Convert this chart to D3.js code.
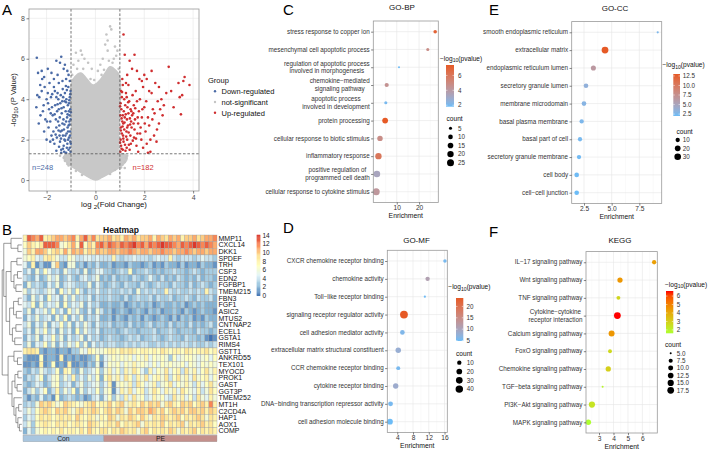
<!DOCTYPE html>
<html>
<head>
<meta charset="utf-8">
<script src="https://cdn.jsdelivr.net/npm/d3@7"></script>
<style>
  body { margin: 0; background: #fff; }
  svg { display: block; font-family: "Liberation Sans", Arial, Helvetica, sans-serif; }
</style>
</head>
<body>
<svg></svg>
<script>
// ---------- A: volcano ----------
const downPts = [[-1.02,1.4],[-1.05,1.6],[-1.03,1.9],[-1.08,2.1],[-1.04,2.4],[-1.1,2.7],[-1.02,3.0],[-1.06,3.2],[-1.03,3.5],[-1.08,3.8],[-1.05,4.1],[-1.02,4.4],[-1.1,1.5],[-1.15,1.8],[-1.12,2.0],[-1.18,2.3],[-1.14,2.6],[-1.2,2.9],[-1.16,3.1],[-1.22,3.4],[-1.13,3.7],[-1.19,4.0],[-1.25,4.3],[-1.11,4.6],[-1.28,1.4],[-1.3,1.7],[-1.27,2.0],[-1.33,2.2],[-1.29,2.5],[-1.35,2.8],[-1.31,3.0],[-1.38,3.3],[-1.3,3.6],[-1.36,3.9],[-1.42,4.2],[-1.34,4.5],[-1.4,1.5],[-1.45,1.9],[-1.43,2.4],[-1.48,2.7],[-1.46,3.1],[-1.5,3.5],[-1.44,3.8],[-1.52,4.0],[-1.55,4.3],[-1.58,2.1],[-1.6,2.6],[-1.62,3.0],[-1.57,3.4],[-1.65,3.7],[-1.6,4.1],[-1.66,4.4],[-1.68,1.8],[-1.72,2.4],[-1.75,3.2],[-1.78,3.6],[-1.7,4.6],[-1.82,4.1],[-1.85,2.9],[-1.9,3.5],[-1.95,4.3],[-1.88,4.8],[-2.0,4.0],[-2.05,3.0],[-2.1,5.1],[-2.2,4.4],[-2.25,3.2],[-2.32,2.8],[-2.38,4.2],[-2.35,5.3],[-2.42,3.6],[-2.4,6.05],[-2.3,4.1],[-2.18,5.0],[-2.15,3.4],[-1.6,5.9],[-1.4,6.1],[-1.45,5.8],[-1.8,5.3],[-1.55,5.2],[-1.3,5.5],[-1.2,5.0],[-1.35,4.9],[-1.1,5.2],[-1.15,5.4],[-1.25,5.7],[-1.05,4.9],[-1.5,4.8],[-1.7,5.0],[-1.95,5.5],[-2.2,5.4],[-2.1,2.4],[-1.8,2.2],[-1.92,2.6],[-2.0,2.0],[-1.2,1.35],[-1.6,1.45],[-1.4,1.35],[-1.85,1.9],[-1.07,2.9],[-1.17,1.6],[-1.23,2.2],[-1.26,3.9],[-1.09,3.4],[-1.32,4.1],[-1.47,2.2],[-1.53,2.9],[-1.01,1.8],[-1.04,2.2],[-1.06,2.75],[-1.01,3.35],[-1.07,3.95],[-1.03,4.25],[-1.12,2.4],[-1.14,3.25],[-1.2,3.85],[-1.17,4.45],[-1.24,1.95],[-1.27,2.75],[-1.21,4.65],[-1.33,1.55],[-1.37,2.45],[-1.39,3.55],[-1.41,2.05],[-1.49,1.65],[-1.51,2.45],[-1.55,3.75],[-1.63,2.25],[-1.67,3.25],[-1.74,2.0],[-1.77,4.25],[-1.83,3.3],[-1.94,3.8],[-1.98,2.9],[-2.08,4.6],[-2.12,3.7],[-2.26,4.7]];
const upPts = [[1.02,1.4],[1.05,1.7],[1.03,2.0],[1.08,2.3],[1.04,2.6],[1.1,2.9],[1.02,3.2],[1.06,3.5],[1.03,3.8],[1.08,4.1],[1.05,4.4],[1.12,1.5],[1.15,1.9],[1.13,2.2],[1.18,2.5],[1.14,2.8],[1.2,3.1],[1.16,3.4],[1.22,3.7],[1.18,4.0],[1.25,4.3],[1.28,1.6],[1.3,2.0],[1.27,2.4],[1.33,2.7],[1.29,3.0],[1.35,3.3],[1.31,3.6],[1.38,3.9],[1.4,1.5],[1.45,1.8],[1.43,2.2],[1.48,2.6],[1.46,2.9],[1.5,3.2],[1.44,3.5],[1.55,3.3],[1.52,4.2],[1.58,2.1],[1.6,2.5],[1.62,3.0],[1.57,3.7],[1.65,4.4],[1.68,1.7],[1.72,2.3],[1.75,2.8],[1.78,3.4],[1.7,3.9],[1.82,4.0],[1.85,2.6],[1.9,3.1],[1.95,4.6],[1.88,2.0],[2.0,3.6],[2.05,2.4],[2.1,1.8],[2.15,3.1],[2.2,2.7],[2.25,1.4],[2.3,4.3],[2.35,3.5],[2.4,2.2],[2.45,4.8],[2.55,3.9],[2.6,2.8],[2.7,4.0],[2.75,3.2],[2.9,4.3],[3.0,5.6],[3.1,4.4],[3.2,3.6],[3.4,4.8],[3.45,4.1],[3.5,3.25],[3.55,4.2],[3.65,5.1],[3.6,4.9],[3.85,4.7],[2.3,5.4],[2.0,5.2],[1.6,6.2],[1.15,7.2],[1.4,5.9],[1.2,6.2],[1.5,5.5],[1.3,5.2],[1.7,5.4],[1.8,5.0],[2.1,5.0],[1.9,4.9],[2.6,4.6],[2.8,3.7],[1.1,5.0],[1.25,4.8],[2.25,2.0],[1.95,1.6],[2.5,1.9],[2.15,1.35],[1.75,1.4],[2.2,4.4],[1.35,4.7],[1.07,1.55],[1.11,2.65],[1.21,1.75],[1.24,3.25],[1.36,2.35],[1.41,3.05],[1.01,1.85],[1.04,2.45],[1.07,3.05],[1.01,3.65],[1.09,4.35],[1.12,3.2],[1.14,2.05],[1.19,2.85],[1.23,1.45],[1.26,2.15],[1.3,2.6],[1.34,3.85],[1.37,1.75],[1.42,2.75],[1.47,3.4],[1.53,1.95],[1.56,2.8],[1.63,3.55],[1.66,2.05],[1.73,3.1],[1.83,2.3],[1.92,3.5],[2.02,2.8],[2.08,3.9],[2.33,3.0],[2.42,3.3],[2.52,2.5],[2.65,3.5],[1.12,4.7],[1.28,4.1]];
const nsPts = [[0.6,7.6],[0.65,7.45],[0.45,7.2],[0.5,6.9],[0.4,6.7],[0.5,6.4],[0.8,6.6],[0.9,6.4],[0.85,6.15],[-0.6,6.4],[-0.55,6.2],[-0.8,6.3],[-0.7,5.9],[-0.45,6.0],[-0.3,5.8],[-0.9,5.7],[0.3,6.0],[0.2,5.7],[0.95,5.5],[-0.95,5.2],[0.1,5.4],[-0.15,5.5],[0.7,5.8],[-0.5,5.5],[-1.3,1.1],[-1.25,0.95],[-1.45,1.2],[1.25,1.1],[1.3,1.2],[1.2,0.9],[-1.15,0.8],[1.1,0.75],[1.2,0.6],[0.25,5.2],[-0.2,5.0],[0.55,5.9],[-0.75,5.5],[0.75,6.0],[-0.8,0.45],[0.8,0.5],[-1.1,0.72],[1.05,0.62],[-0.55,0.25],[0.6,0.3],[-0.92,4.95],[0.92,5.25],[-0.05,4.95],[0.35,5.45]];
const nsCloud = [[0,0],[-0.25,0.12],[-0.5,0.3],[-0.75,0.5],[-1.0,0.7],[-1.2,0.9],[-1.3,1.15],[-1.1,1.3],[-1.0,1.3],[-1.0,4.7],[-0.85,5.1],[-0.6,5.3],[-0.35,5.0],[-0.1,4.7],[0.15,4.9],[0.4,5.3],[0.6,5.6],[0.85,5.4],[1.0,5.1],[1.0,1.3],[1.15,1.3],[1.3,1.1],[1.2,0.85],[1.0,0.65],[0.75,0.45],[0.5,0.28],[0.25,0.12]];
const volXTicks = [-2, 0, 2, 4];
const volYTicks = [0, 2, 4, 6, 8];
const groupLabels = ["Down-regulated", "not-significant", "Up-regulated"];
const degCounts = [248, 182];
const fcCut = 1, pCut = 0.05;

// ---------- B: heatmap ----------
const genes = ["MMP11","CXCL14","DKK1","SPDEF","TRH","CSF3","EDN2","FGFBP1","TMEM215","FBN3","FGF1","ASIC2","MTUS2","CNTNAP2","ECEL1","GSTA1","RIMS4","GSTT1","ANKRD55","TEX101","MYOCD","PROK1","GAST","GGT3P","TMEM252","MT1H","C2CD4A","HAP1","AOX1","COMP"];
const sampleGroups = ["Con", "PE"];
// one hex digit per sample (0-e = expression 0-14)
const conExpr = ["8dcbd89abbabc8bdac9a","7a879dddc679b7d7a8cd","6a8bba79a8b8bab8a9ba","67854898644764455454","52813116a21662313242","35263753426434262355","43252364623532453462","26343253624543336253","63543465274637424353","42635274526363435243","54726354627354625342","36254637352746325264","25363452637253624352","46253625473625364253","35264735263527364352","25362547362534625342","36254736253647362534","89982122122133658766","21117122181212112372","11218127121811213261","32436434728732634573","24357246736483536472","32354236734524634563","24635724836472635473","31325231723432312452","3436a9a867a987689a78","46479a97a9a869a89a97","3547989789897a879868","4637898798978987a987","2536787879788797a879"];
const peExpr = ["ab9a8bab9aab8ba9bab8aab9abbc","bdcbdcdecdbdcdeddcbdcdedcdcb","abbabbcbabbabbcbbabbcbabbabb","4484344544434544843444345443","2312213221231213221312213221","3323437233432323343323432333","3242332432353242324323242332","2343243324323433243324234323","3433434263434338434334343843","3433242343342433423343243342","2322312323231232232312323222","2312321232132312232132123221","2313213231321232131323121322","3423324232342332423324232342","3332343323334233432333243323","3433234342334323433243323101","3443343434433434343443433434","7887989878878798788798788978","5676767576857676375677656757","5767576867657576766757657676","6857486975385769578496857968","7968597486957869479685967857","5816768497568467957686485796","6715869578469758685976584697","5736485967458675496857496586","8a79a6897a8a9a69a87a9a79a8c8","9a8a96a8aa9ba8a79a9a8aa9a8a9","7a9698a97a8698a989a7989a9698","898a7989a69898a7989a6989a897","9798a98969a79898a96989a79898"];
const heatTicks = [0, 2, 4, 6, 8, 10, 12, 14];
const geneTree = {h:1, c:[
  {h:.92, c:[
    {h:.55, c:[0, {h:.2, c:[1,2]}]},
    {h:.8, c:[
      {h:.55, c:[{h:.25, c:[3,4]}, {h:.4, c:[{h:.22, c:[5,6]}, {h:.3, c:[7,8]}]}]},
      {h:.62, c:[{h:.42, c:[{h:.18, c:[9,10]}, {h:.28, c:[11,12]}]}, {h:.48, c:[{h:.3, c:[13,14]}, {h:.36, c:[15,16]}]}]}
    ]}
  ]},
  {h:.7, c:[
    {h:.4, c:[17, {h:.22, c:[18,19]}]},
    {h:.5, c:[
      {h:.35, c:[{h:.2, c:[20,21]}, {h:.24, c:[22,23]}]},
      {h:.4, c:[24, {h:.3, c:[{h:.16, c:[25,26]}, {h:.2, c:[27, {h:.12, c:[28,29]}]}]}]}
    ]}
  ]}
]};

// ---------- C: GO-BP ----------
const bpTerms = ["stress response to copper ion","mesenchymal cell apoptotic process","regulation of apoptotic process\ninvolved in morphogenesis","chemokine\u2212mediated\nsignaling pathway","apoptotic process\ninvolved in development","protein processing","cellular response to biotic stimulus","inflammatory response","positive regulation of\nprogrammed cell death","cellular response to cytokine stimulus"];
const bpEnrich = [27.2, 23.9, 11.0, 5.5, 5.1, 4.8, 2.5, 1.8, 1.1, 0.8];
const bpLogP = [7.0, 4.8, 1.8, 4.5, 2.0, 7.4, 4.8, 6.0, 3.3, 4.2];
const bpCount = [6, 5, 4, 8, 5, 16, 14, 20, 22, 25];
const bpXTicks = [10, 20], bpColorTicks = [2, 4, 6], bpSizeTicks = [5, 10, 15, 20, 25];

// ---------- D: GO-MF ----------
const mfTerms = ["CXCR chemokine receptor binding","chemokine activity","Toll\u2212like receptor binding","signaling receptor regulator activity","cell adhesion mediator activity","extracellular matrix structural constituent","CCR chemokine receptor binding","cytokine receptor binding","DNA\u2212binding transcription repressor activity","cell adhesion molecule binding"];
const mfEnrich = [16.1, 11.7, 11.0, 5.7, 5.3, 4.25, 4.25, 3.6, 2.3, 2.15];
const mfLogP = [5.5, 11.0, 5.0, 23.7, 6.0, 8.0, 5.5, 8.5, 5.5, 4.8];
const mfCount = [6, 10, 4, 45, 12, 18, 8, 17, 13, 20];
const mfXTicks = [4, 8, 12, 16], mfColorTicks = [5, 10, 15, 20], mfSizeTicks = [10, 20, 30, 40];

// ---------- E: GO-CC ----------
const ccTerms = ["smooth endoplasmic reticulum","extracellular matrix","endoplasmic reticulum lumen","secretory granule lumen","membrane microdomain","basal plasma membrane","basal part of cell","secretory granule membrane","cell body","cell\u2212cell junction"];
const ccEnrich = [9.16, 4.4, 3.35, 2.68, 2.5, 2.29, 2.14, 2.05, 1.84, 1.84];
const ccLogP = [2.6, 13.0, 6.5, 3.5, 3.0, 2.6, 2.4, 2.2, 2.1, 2.0];
const ccCount = [4, 32, 15, 12, 12, 10, 10, 10, 12, 12];
const ccXTicks = [2.5, 5.0, 7.5], ccColorTicks = [2.5, 5.0, 7.5, 10.0, 12.5], ccSizeTicks = [10, 20, 30];

// ---------- F: KEGG ----------
const kgTerms = ["IL\u221217 signaling pathway","Wnt signaling pathway","TNF signaling pathway","Cytokine\u2212cytokine\nreceptor interaction","Calcium signaling pathway","FoxO signaling pathway","Chemokine signaling pathway","TGF\u2212beta signaling pathway","PI3K\u2212Akt signaling pathway","MAPK signaling pathway"];
const kgEnrich = [6.81, 4.45, 4.34, 4.27, 3.87, 3.76, 3.64, 3.25, 2.51, 2.26];
const kgLogP = [4.3, 4.5, 2.8, 6.6, 4.5, 2.7, 3.0, 1.9, 2.4, 1.6];
const kgCount = [8, 11, 7, 18, 14, 7, 11, 5, 15, 12];
const kgXTicks = [3, 4, 5, 6], kgColorTicks = [2, 3, 4, 5, 6], kgSizeTicks = [5, 7.5, 10, 12.5, 15, 17.5];

// =====================================================================
const svg = d3.select("svg").attr("width", 708).attr("height", 449);
svg.append("rect").attr("width", 708).attr("height", 449).attr("fill", "#fff");

const TXT = "#333";
const GRID = "#e6e6e6", GRID_MINOR = "#f3f3f3", BORDER = "#9a9a9a";

// text with subscript pieces: parts = [[string, isSub], ...]
function subText(sel, parts, size) {
  let shifted = false;
  parts.forEach(([s, sub]) => {
    const t = sel.append("tspan").text(s).attr("font-size", sub ? size * 0.78 : size);
    if (sub && !shifted) { t.attr("dy", size * 0.25); shifted = true; }
    else if (!sub && shifted) { t.attr("dy", -size * 0.25); shifted = false; }
  });
  return sel;
}

function minorTicks(ticks, domain) {
  const step = ticks[1] - ticks[0];
  const out = [];
  for (let v = ticks[0] - step / 2; v <= domain[1]; v += step) if (v >= domain[0]) out.push(v);
  return out;
}

// ---------------- panel letters ----------------
[["A", 2, 15], ["B", 2, 235], ["C", 283, 15], ["D", 283, 233], ["E", 489, 15], ["F", 489, 237]]
  .forEach(([s, x, y]) => svg.append("text").attr("x", x).attr("y", y).attr("font-size", 15).attr("fill", "#000").text(s));

// ---------------- A: volcano ----------------
function drawVolcano(g) {
  const box = { l: 29, r: 199, t: 9, b: 191 };
  const xDom = [-2.72, 4.24], yDom = [-0.54, 8.46];
  const x = d3.scaleLinear().domain(xDom).range([box.l, box.r]);
  const y = d3.scaleLinear().domain(yDom).range([box.b, box.t]);

  g.append("rect").attr("x", box.l).attr("y", box.t).attr("width", box.r - box.l).attr("height", box.b - box.t).attr("fill", "#fff");
  const grid = g.append("g");
  minorTicks(volXTicks, xDom).forEach(v => grid.append("line").attr("x1", x(v)).attr("x2", x(v)).attr("y1", box.t).attr("y2", box.b).attr("stroke", GRID_MINOR).attr("stroke-width", 0.4));
  minorTicks(volYTicks, yDom).forEach(v => grid.append("line").attr("y1", y(v)).attr("y2", y(v)).attr("x1", box.l).attr("x2", box.r).attr("stroke", GRID_MINOR).attr("stroke-width", 0.4));
  volXTicks.forEach(v => grid.append("line").attr("x1", x(v)).attr("x2", x(v)).attr("y1", box.t).attr("y2", box.b).attr("stroke", GRID).attr("stroke-width", 0.6));
  volYTicks.forEach(v => grid.append("line").attr("y1", y(v)).attr("y2", y(v)).attr("x1", box.l).attr("x2", box.r).attr("stroke", GRID).attr("stroke-width", 0.6));

  const line = d3.line().x(d => x(d[0])).y(d => y(d[1])).curve(d3.curveCatmullRomClosed);
  g.append("path").attr("d", line(nsCloud)).attr("fill", "#c8c8c8").attr("stroke", "#c8c8c8").attr("stroke-width", 1.5);

  const dots = (data, col) => g.append("g").selectAll("circle").data(data).enter().append("circle")
    .attr("cx", d => x(d[0])).attr("cy", d => y(d[1])).attr("r", 1.3).attr("fill", col);
  dots(nsPts, "#c4c4c4");
  dots(downPts, "#4a6aa6");
  dots(upPts, "#cf2d2f");

  const dash = "2.6,1.8";
  [-fcCut, fcCut].forEach(v => g.append("line").attr("x1", x(v)).attr("x2", x(v)).attr("y1", box.t).attr("y2", box.b).attr("stroke", "#555").attr("stroke-width", 0.8).attr("stroke-dasharray", dash));
  const py = -Math.log10(pCut);
  g.append("line").attr("x1", box.l).attr("x2", box.r).attr("y1", y(py)).attr("y2", y(py)).attr("stroke", "#555").attr("stroke-width", 0.8).attr("stroke-dasharray", dash);

  g.append("rect").attr("x", box.l).attr("y", box.t).attr("width", box.r - box.l).attr("height", box.b - box.t).attr("fill", "none").attr("stroke", BORDER).attr("stroke-width", 0.8);

  const ax = g.append("g").attr("transform", `translate(0,${box.b})`).call(d3.axisBottom(x).tickValues(volXTicks).tickFormat(d3.format("d")).tickSize(2.5).tickPadding(1.5));
  const ay = g.append("g").attr("transform", `translate(${box.l},0)`).call(d3.axisLeft(y).tickValues(volYTicks).tickFormat(d3.format("d")).tickSize(2.5).tickPadding(1.5));
  [ax, ay].forEach(a => {
    a.select(".domain").remove();
    a.selectAll("line").attr("stroke", TXT).attr("stroke-width", 0.6);
    a.selectAll("text").attr("font-size", 7).attr("fill", "#4d4d4d").attr("font-family", null);
  });

  subText(g.append("text").attr("x", (box.l + box.r) / 2).attr("y", 207).attr("text-anchor", "middle").attr("fill", "#111"),
    [["log ", false], ["2", true], ["(Fold Change)", false]], 7.8);
  subText(g.append("text").attr("transform", `translate(16,${(box.t + box.b) / 2}) rotate(-90)`).attr("text-anchor", "middle").attr("fill", "#111"),
    [["-log", false], ["10", true], [" (P Value)", false]], 7.8);

  g.append("text").attr("x", 32).attr("y", 170).attr("font-size", 7.5).attr("fill", "#4a6aa6").text("n=" + degCounts[0]);
  g.append("text").attr("x", 132.5).attr("y", 170).attr("font-size", 7.5).attr("fill", "#cf2d2f").text("n=" + degCounts[1]);

  // legend
  const lg = g.append("g");
  lg.append("text").attr("x", 208).attr("y", 83).attr("font-size", 7.5).attr("fill", "#111").text("Group");
  const lcol = ["#4a6aa6", "#c4c4c4", "#cf2d2f"];
  groupLabels.forEach((s, i) => {
    const yy = 91.2 + i * 10.8;
    lg.append("circle").attr("cx", 215).attr("cy", yy).attr("r", 1.2).attr("fill", lcol[i]);
    lg.append("text").attr("x", 221.5).attr("y", yy + 2.7).attr("font-size", 7.5).attr("fill", "#111").text(s);
  });
}

// ---------------- B: heatmap ----------------
function drawHeatmap(g) {
  const box = { l: 23, r: 217, t: 235, b: 434.3 };
  const nCon = conExpr[0].length, nPE = peExpr[0].length;
  const nCol = nCon + nPE;
  const x = d3.scaleBand().domain(d3.range(nCol)).range([box.l, box.r]);
  const y = d3.scaleBand().domain(d3.range(genes.length)).range([box.t, box.b]);
  const pal = ["#4575b4", "#91bfdb", "#e0f3f8", "#ffffbf", "#fee090", "#fc8d59", "#d73027"];
  const color = d3.scaleLinear().domain(pal.map((_, i) => i * 14.2 / 6)).range(pal).clamp(true);

  const cells = [];
  genes.forEach((gname, i) => {
    const row = conExpr[i] + peExpr[i];
    for (let j = 0; j < nCol; j++) cells.push({ i, j, v: parseInt(row[j], 16) });
  });
  g.append("g").selectAll("rect").data(cells).enter().append("rect")
    .attr("x", d => x(d.j)).attr("y", d => y(d.i)).attr("width", x.bandwidth()).attr("height", y.bandwidth())
    .attr("fill", d => color(d.v)).attr("stroke", "#9c9c9c").attr("stroke-width", 0.35);

  // annotation bar
  const ab = { t: 435.2, h: 6.6 };
  const grpCol = ["#a9c6df", "#c4908c"];
  [[0, nCon], [nCon, nCol]].forEach(([a, b], k) => {
    const x0 = x(a), x1 = x(b - 1) + x.bandwidth();
    g.append("rect").attr("x", x0).attr("y", ab.t).attr("width", x1 - x0).attr("height", ab.h).attr("fill", grpCol[k]).attr("stroke", "#9c9c9c").attr("stroke-width", 0.35);
    g.append("text").attr("x", (x0 + x1) / 2).attr("y", ab.t + ab.h - 1).attr("text-anchor", "middle").attr("font-size", 6.8).attr("fill", "#222").text(sampleGroups[k]);
  });

  // gene labels
  g.append("g").selectAll("text").data(genes).enter().append("text")
    .attr("x", box.r + 1.5).attr("y", (d, i) => y(i) + y.bandwidth() / 2 + 2.5)
    .attr("font-size", 7).attr("fill", "#111").text(d => d);

  g.append("text").attr("x", 121).attr("y", 233).attr("text-anchor", "middle").attr("font-size", 8.5).attr("font-weight", "bold").attr("fill", "#111").text("Heatmap");

  // dendrogram
  const xh = d3.scaleLinear().domain([0, 1]).range([21.8, 2.2]);
  const dg = g.append("g").attr("stroke", "#555").attr("stroke-width", 0.6).attr("fill", "none");
  function lay(node) {
    if (typeof node === "number") return { x: xh(0), y: y(node) + y.bandwidth() / 2 };
    const kids = node.c.map(lay);
    const xn = xh(node.h);
    dg.append("line").attr("x1", xn).attr("x2", xn).attr("y1", kids[0].y).attr("y2", kids[kids.length - 1].y);
    kids.forEach(k => dg.append("line").attr("x1", xn).attr("x2", k.x).attr("y1", k.y).attr("y2", k.y));
    return { x: xn, y: (kids[0].y + kids[kids.length - 1].y) / 2 };
  }
  lay(geneTree);

  // colour legend
  const ly = d3.scaleLinear().domain([0, 14]).range([295.7, 235.6]);
  const lb = g.append("g");
  const steps = d3.range(0, 14.2, 0.2);
  lb.selectAll("rect").data(steps).enter().append("rect")
    .attr("x", 256.7).attr("width", 3.6).attr("y", d => ly(d + 0.2)).attr("height", ly(0) - ly(0.2) + 0.3)
    .attr("fill", d => color(d + 0.1));
  lb.selectAll("text").data(heatTicks).enter().append("text")
    .attr("x", 262.5).attr("y", d => ly(d) + 2.3).attr("font-size", 6.5).attr("fill", "#222").text(d => d);
}

// ---------------- dot plots ----------------
function drawDot(g, c) {
  const box = c.box;
  const x = d3.scaleLinear().domain(c.xDomain).range([box.l, box.r]);
  const y = d3.scalePoint().domain(d3.range(c.terms.length)).range([box.t, box.b]).padding(0.6);
  const color = d3.scaleLinear().domain(c.colorDomain).range(c.colorRange).interpolate(d3.interpolateLab).clamp(true);
  const cExt = d3.extent(c.count);
  const r = v => c.rRange[0] + (c.rRange[1] - c.rRange[0]) * Math.sqrt(Math.max(0, (v - cExt[0]) / (cExt[1] - cExt[0])));

  g.append("rect").attr("x", box.l).attr("y", box.t).attr("width", box.r - box.l).attr("height", box.b - box.t).attr("fill", "#fff");
  minorTicks(c.xTicks, c.xDomain).forEach(v => g.append("line").attr("x1", x(v)).attr("x2", x(v)).attr("y1", box.t).attr("y2", box.b).attr("stroke", GRID_MINOR).attr("stroke-width", 0.4));
  c.xTicks.forEach(v => g.append("line").attr("x1", x(v)).attr("x2", x(v)).attr("y1", box.t).attr("y2", box.b).attr("stroke", GRID).attr("stroke-width", 0.6));
  c.terms.forEach((t, i) => g.append("line").attr("x1", box.l).attr("x2", box.r).attr("y1", y(i)).attr("y2", y(i)).attr("stroke", GRID).attr("stroke-width", 0.6));

  const order = d3.range(c.terms.length);
  g.append("g").selectAll("circle").data(order).enter().append("circle")
    .attr("cx", i => x(c.enrich[i])).attr("cy", i => y(i)).attr("r", i => r(c.count[i]))
    .attr("fill", i => color(c.logp[i]));

  g.append("rect").attr("x", box.l).attr("y", box.t).attr("width", box.r - box.l).attr("height", box.b - box.t).attr("fill", "none").attr("stroke", BORDER).attr("stroke-width", 0.8);

  const ax = g.append("g").attr("transform", `translate(0,${box.b})`)
    .call(d3.axisBottom(x).tickValues(c.xTicks).tickFormat(c.xFmt).tickSize(2.2).tickPadding(1.2));
  ax.select(".domain").remove();
  ax.selectAll("line").attr("stroke", TXT).attr("stroke-width", 0.6);
  ax.selectAll("text").attr("font-size", 6.6).attr("fill", TXT).attr("font-family", null);

  const ay = g.append("g").attr("transform", `translate(${box.l},0)`)
    .call(d3.axisLeft(y).tickFormat("").tickSize(2.2));
  ay.select(".domain").remove();
  ay.selectAll("line").attr("stroke", TXT).attr("stroke-width", 0.6);

  // category labels (multi-line blocks centred, right-aligned as a block)
  const fs = 6.3, lh = 7.8;
  c.terms.forEach((t, i) => {
    const lines = t.split("\n");
    const tg = g.append("g");
    const texts = lines.map((s, k) => tg.append("text").attr("font-size", fs).attr("fill", TXT)
      .attr("y", y(i) + 2.2 + (k - (lines.length - 1) / 2) * lh).text(s));
    const wmax = d3.max(texts, tx => tx.node().getComputedTextLength());
    const right = box.l - 3.6;
    texts.forEach(tx => tx.attr("text-anchor", "middle").attr("x", right - wmax / 2));
  });

  g.append("text").attr("x", c.titleX).attr("y", c.titleY).attr("text-anchor", "middle").attr("font-size", 8).attr("fill", "#111").text(c.title);
  g.append("text").attr("x", (box.l + box.r) / 2).attr("y", box.b + 16).attr("text-anchor", "middle").attr("font-size", 6.8).attr("fill", "#111").text("Enrichment");

  // colour bar legend
  const L = c.leg;
  subText(g.append("text").attr("x", L.titleX).attr("y", L.titleY).attr("fill", "#111"),
    [["\u2212log", false], ["10", true], ["(pvalue)", false]], 6.6);
  const gid = "grad" + c.title.replace(/\W/g, "");
  const grad = svg.append("defs").append("linearGradient").attr("id", gid).attr("x1", 0).attr("x2", 0).attr("y1", 1).attr("y2", 0);
  d3.range(0, 1.0001, 0.1).forEach(t => grad.append("stop").attr("offset", t)
    .attr("stop-color", color(c.colorDomain[0] + t * (c.colorDomain[1] - c.colorDomain[0]))));
  const bar = L.bar;
  g.append("rect").attr("x", bar.x).attr("y", bar.y).attr("width", bar.w).attr("height", bar.h).attr("fill", `url(#${gid})`);
  const cy = d3.scaleLinear().domain(c.colorDomain).range([bar.y + bar.h, bar.y]);
  c.colorTicks.forEach(v => {
    g.append("line").attr("x1", bar.x).attr("x2", bar.x + 1.5).attr("y1", cy(v)).attr("y2", cy(v)).attr("stroke", "#fff").attr("stroke-width", 0.5);
    g.append("line").attr("x1", bar.x + bar.w - 1.5).attr("x2", bar.x + bar.w).attr("y1", cy(v)).attr("y2", cy(v)).attr("stroke", "#fff").attr("stroke-width", 0.5);
    g.append("text").attr("x", L.labX).attr("y", cy(v) + 2.2).attr("font-size", 6.3).attr("fill", TXT).text(c.cFmt(v));
  });

  // size legend
  g.append("text").attr("x", L.countX).attr("y", L.countY).attr("font-size", 6.6).attr("fill", "#111").text("count");
  c.sizeTicks.forEach((v, k) => {
    const yy = L.dotY0 + k * L.dotStep;
    g.append("circle").attr("cx", L.dotX).attr("cy", yy).attr("r", r(v)).attr("fill", "#000");
    g.append("text").attr("x", L.labX2).attr("y", yy + 2.2).attr("font-size", 6.3).attr("fill", TXT).text(c.sFmt(v));
  });
}

drawVolcano(svg.append("g"));
drawHeatmap(svg.append("g"));

const blueOrange = ["#6cbcf7", "#e65a26"];
drawDot(svg.append("g"), {
  title: "GO-BP", titleX: 402, titleY: 9.5,
  terms: bpTerms, enrich: bpEnrich, logp: bpLogP, count: bpCount,
  box: { l: 373.3, r: 438.3, t: 21, b: 202.4 }, xDomain: [-0.5, 28.6], xTicks: bpXTicks, xFmt: d3.format("d"),
  colorDomain: [1.8, 7.4], colorRange: blueOrange, colorTicks: bpColorTicks, cFmt: d3.format("d"),
  sizeTicks: bpSizeTicks, sFmt: d3.format("d"), rRange: [1.0, 3.5],
  leg: { titleX: 440, titleY: 60.5, bar: { x: 446, y: 65, w: 8, h: 41.7 }, labX: 458,
         countX: 446.5, countY: 121, dotX: 450.5, dotY0: 128.3, dotStep: 8.6, labX2: 458 }
});
drawDot(svg.append("g"), {
  title: "GO-MF", titleX: 416.5, titleY: 243,
  terms: mfTerms, enrich: mfEnrich, logp: mfLogP, count: mfCount,
  box: { l: 387.3, r: 447.3, t: 250.3, b: 432.4 }, xDomain: [1.47, 16.7], xTicks: mfXTicks, xFmt: d3.format("d"),
  colorDomain: [4.8, 23.7], colorRange: blueOrange, colorTicks: mfColorTicks, cFmt: d3.format("d"),
  sizeTicks: mfSizeTicks, sFmt: d3.format("d"), rRange: [1.1, 3.9],
  leg: { titleX: 448.3, titleY: 289, bar: { x: 456, y: 298, w: 7.3, h: 43 }, labX: 466.5,
         countX: 456, countY: 355.5, dotX: 459.3, dotY0: 362.7, dotStep: 8.8, labX2: 466.7 }
});
drawDot(svg.append("g"), {
  title: "GO-CC", titleX: 615, titleY: 11,
  terms: ccTerms, enrich: ccEnrich, logp: ccLogP, count: ccCount,
  box: { l: 571.7, r: 661.7, t: 21.6, b: 203.4 }, xDomain: [1.39, 9.52], xTicks: ccXTicks, xFmt: d3.format(".1f"),
  colorDomain: [2.0, 13.0], colorRange: blueOrange, colorTicks: ccColorTicks, cFmt: d3.format(".1f"),
  sizeTicks: ccSizeTicks, sFmt: d3.format("d"), rRange: [1.1, 3.4],
  leg: { titleX: 662.5, titleY: 67, bar: { x: 673.3, y: 74, w: 6.7, h: 42 }, labX: 682.7,
         countX: 676.5, countY: 134, dotX: 677.7, dotY0: 140, dotStep: 8.35, labX2: 682.7 }
});
drawDot(svg.append("g"), {
  title: "KEGG", titleX: 620, titleY: 243,
  terms: kgTerms, enrich: kgEnrich, logp: kgLogP, count: kgCount,
  box: { l: 586, r: 657.3, t: 251.6, b: 433 }, xDomain: [2.1, 7.03], xTicks: kgXTicks, xFmt: d3.format("d"),
  colorDomain: [1.6, 6.6], colorRange: ["#adff2f", "#ff0000"], colorTicks: kgColorTicks, cFmt: d3.format("d"),
  sizeTicks: kgSizeTicks, sFmt: d3.format(".1f"), rRange: [1.0, 3.4],
  leg: { titleX: 665, titleY: 286.5, bar: { x: 666, y: 291, w: 7.3, h: 42.3 }, labX: 676.7,
         countX: 665, countY: 347, dotX: 670.7, dotY0: 353.3, dotStep: 7.4, labX2: 676.7 }
});
</script>
</body>
</html>
